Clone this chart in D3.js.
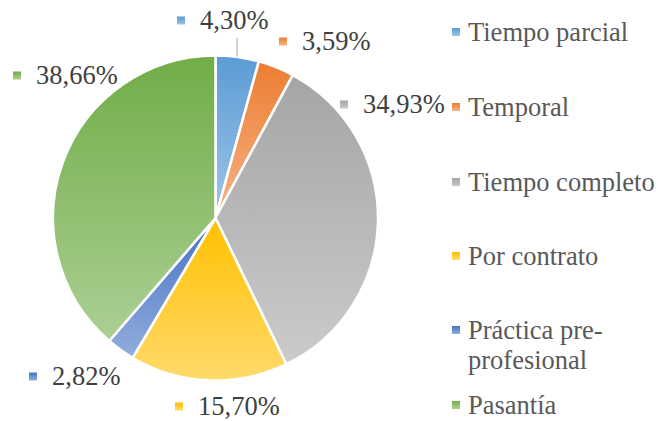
<!DOCTYPE html>
<html><head><meta charset="utf-8">
<script src="https://cdn.jsdelivr.net/npm/d3@7"></script>
<style>body{margin:0;background:#fff}svg{display:block}</style>
</head><body>
<script>
const categories = ["Tiempo parcial","Temporal","Tiempo completo","Por contrato","Práctica pre-profesional","Pasantía"];
const values = [4.30, 3.59, 34.93, 15.70, 2.82, 38.66];
const labels = ["4,30%","3,59%","34,93%","15,70%","2,82%","38,66%"];
const colors = ["#5B9BD5","#ED7D31","#A5A5A5","#FFC000","#4472C4","#70AD47"];
const legendLines = [["Tiempo parcial"],["Temporal"],["Tiempo completo"],["Por contrato"],["Práctica pre-","profesional"],["Pasantía"]];

const W = 658, H = 421;
const cx = 215.5, cy = 218, R = 162.5;
const FONT = '"Liberation Serif", "Tinos", "Times New Roman", serif';
const svg = d3.select("body").append("svg").attr("width", W).attr("height", H)
  .style("font-family", FONT);
const defs = svg.append("defs");
colors.forEach((c, i) => {
  const g = defs.append("linearGradient").attr("id", "g" + i).attr("x1", 0).attr("y1", 0).attr("x2", 0).attr("y2", 1);
  g.append("stop").attr("offset", "0%").attr("stop-color", c);
  g.append("stop").attr("offset", "100%").attr("stop-color", d3.interpolateRgb(c, "#fff")(0.42));
});

const pie = d3.pie().sort(null).value(d => d)(values);
const arc = d3.arc().innerRadius(0).outerRadius(R);
const gp = svg.append("g").attr("transform", `translate(${cx},${cy})`);
gp.selectAll("path").data(pie).join("path")
  .attr("d", arc).attr("fill", (d, i) => `url(#g${i})`)
  .attr("stroke", "#fff").attr("stroke-width", 2.5).attr("stroke-linejoin", "round");

const labelPos = [[200, 20], [302, 41], [363, 104], [198, 406], [52, 376], [36, 75]];
svg.append("line")
  .attr("x1", cx + 21.5).attr("x2", cx + 21.5)
  .attr("y1", 38).attr("y2", cy - R + 1)
  .attr("stroke", "#A6A6A6").attr("stroke-width", 1);

labelPos.forEach(([x, y], i) => {
  svg.append("rect").attr("x", x - 23).attr("y", y - 3.5).attr("width", 8).attr("height", 8).attr("fill", `url(#g${i})`);
  svg.append("text").attr("x", x).attr("y", y).attr("dy", "0.35em")
    .style("font-family", FONT).style("font-size", "26.5px").attr("fill", "#404040").text(labels[i]);
});

const legY = [32, 107, 182, 256, 330, 405];
categories.forEach((c, i) => {
  svg.append("rect").attr("x", 452).attr("y", legY[i] - 4).attr("width", 8).attr("height", 8).attr("fill", `url(#g${i})`);
  const t = svg.append("text").attr("x", 468).attr("y", legY[i])
    .style("font-family", FONT).style("font-size", "26.5px").attr("fill", "#595959");
  legendLines[i].forEach((ln, j) => t.append("tspan").attr("x", 468).attr("dy", j === 0 ? "0.35em" : "1.13em").text(ln));
});
</script>
</body></html>
